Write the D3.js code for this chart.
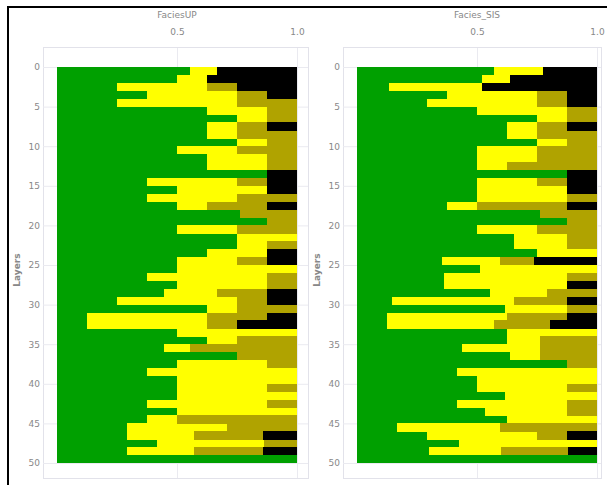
<!DOCTYPE html>
<html><head><meta charset="utf-8">
<script src="https://cdn.jsdelivr.net/npm/d3@7"></script>
<style>body{margin:0;background:#fff}svg{display:block}text{font-family:"DejaVu Sans",sans-serif;fill:#888}</style>
</head><body>
<script>
const facies = ["Green","Yellow","Olive","Black"];
const colors = ["#00a000","#ffff00","#b0a300","#000000"];
const layerTicks = [0,5,10,15,20,25,30,35,40,45,50];
const xTicks = [0.5,1.0];
const titles = ["FaciesUP","Facies_SIS"];

// FaciesUP proportions per layer (rows 0..49)
const upGreen = [0.556,0.5,0.25,0.375,0.25,0.625,0.75,0.625,0.625,0.75,0.5,0.625,0.625,0.875,0.375,0.5,0.375,0.5,0.764,0.875,0.5,0.75,0.75,0.625,0.5,0.5,0.375,0.5,0.444,0.25,0.625,0.125,0.125,0.5,0.625,0.444,0.75,0.5,0.375,0.5,0.5,0.5,0.375,0.5,0.375,0.292,0.29,0.417,0.29,1];
const upYellow = [0.111,0.125,0.375,0.375,0.5,0.25,0.125,0.125,0.125,0.125,0.25,0.25,0.25,0,0.375,0.375,0.375,0.125,0,0,0.25,0.25,0.125,0.25,0.25,0.5,0.5,0.375,0.222,0.5,0.125,0.5,0.5,0.5,0.125,0.111,0,0.375,0.625,0.5,0.375,0.5,0.5,0.5,0.125,0.417,0.28,0.444,0.28,0];
const upOlive = [0,0,0.125,0.125,0.25,0.125,0.125,0.125,0.25,0.125,0.25,0.125,0.125,0,0.125,0,0.25,0.25,0.236,0.125,0.25,0,0.125,0,0.125,0,0.125,0.125,0.208,0.125,0.25,0.25,0.125,0,0.25,0.444,0.25,0.125,0,0,0.125,0,0.125,0,0.5,0.292,0.29,0.139,0.29,0];
const upBlack = [0.333,0.375,0.25,0.125,0,0,0,0.125,0,0,0,0,0,0.125,0.125,0.125,0,0.125,0,0,0,0,0,0.125,0.125,0,0,0,0.125,0.125,0,0.125,0.25,0,0,0,0,0,0,0,0,0,0,0,0,0,0.14,0,0.14,0];

// Facies_SIS proportions per layer (rows 0..49)
const sisGreen = [0.569,0.52,0.132,0.375,0.29,0.5,0.75,0.625,0.625,0.75,0.5,0.5,0.5,0.875,0.5,0.5,0.5,0.375,0.764,0.875,0.5,0.653,0.653,0.75,0.354,0.514,0.361,0.361,0.556,0.146,0.618,0.125,0.125,0.625,0.625,0.4375,0.639,0.875,0.417,0.5,0.5,0.618,0.417,0.535,0.625,0.167,0.29,0.424,0.3,1];
const sisYellow = [0.208,0.118,0.389,0.375,0.46,0.375,0.125,0.125,0.125,0.125,0.25,0.25,0.125,0,0.25,0.375,0.375,0.125,0,0,0.25,0.222,0.222,0.25,0.243,0.486,0.514,0.514,0.236,0.507,0.257,0.5,0.444,0.375,0.139,0.326,0.125,0,0.583,0.5,0.375,0.382,0.458,0.34,0.375,0.43,0.46,0.576,0.3,0];
const sisOlive = [0,0,0,0.125,0.125,0.125,0.125,0.125,0.25,0.125,0.25,0.25,0.375,0,0.125,0,0.125,0.375,0.236,0.125,0.25,0.125,0.125,0,0.139,0,0.125,0,0.208,0.222,0.125,0.25,0.236,0,0.236,0.236,0.236,0.125,0,0,0.125,0,0.125,0.125,0,0.403,0.125,0,0.28,0];
const sisBlack = [0.222,0.361,0.48,0.125,0.125,0,0,0.125,0,0,0,0,0,0.125,0.125,0.125,0,0.125,0,0,0,0,0,0,0.264,0,0,0.125,0,0.125,0,0.125,0.194,0,0,0,0,0,0,0,0,0,0,0,0,0,0.125,0,0.12,0];

const W = 607, H = 485;
const svg = d3.select("body").append("svg").attr("width", W).attr("height", H);

// outer frame (top and left)
svg.append("line").attr("x1",7).attr("x2",W).attr("y1",7).attr("y2",7).attr("stroke","#000").attr("stroke-width",2);
svg.append("line").attr("x1",8).attr("x2",8).attr("y1",6).attr("y2",H).attr("stroke","#000").attr("stroke-width",2);

const panels = [
  {title: titles[0], series: [upGreen, upYellow, upOlive, upBlack], x0: 57, frameL: 43, frameR: 308},
  {title: titles[1], series: [sisGreen, sisYellow, sisOlive, sisBlack], x0: 357, frameL: 343, frameR: 601}
];

const y = d3.scaleLinear().domain([0, 50]).range([67, 463]);

panels.forEach(p => {
  const x = d3.scaleLinear().domain([0, 1]).range([p.x0, p.x0 + 240]);
  const g = svg.append("g");
  // panel frame
  g.append("rect").attr("x", p.frameL + 0.5).attr("y", 47.5).attr("width", p.frameR - p.frameL).attr("height", 431)
    .attr("fill", "#fff").attr("stroke", "#e2e2ea");
  // gridlines
  g.selectAll("line.hg").data(layerTicks).join("line")
    .attr("x1", p.frameL).attr("x2", p.frameR).attr("y1", d => y(d) + 0.5).attr("y2", d => y(d) + 0.5)
    .attr("stroke", "#eaeaf0");
  g.selectAll("line.vg").data(xTicks).join("line")
    .attr("x1", d => x(d) + 0.5).attr("x2", d => x(d) + 0.5).attr("y1", 48).attr("y2", 478)
    .attr("stroke", "#eaeaf0");

  // stacked bars
  const rows = d3.range(50).map(i => {
    const o = {layer: i};
    facies.forEach((f, k) => o[f] = p.series[k][i]);
    return o;
  });
  const stack = d3.stack().keys(facies)(rows);
  stack.forEach((s, k) => {
    g.append("g").attr("fill", colors[k]).selectAll("rect").data(s).join("rect")
      .attr("x", d => x(d[0])).attr("width", d => Math.max(0, x(d[1]) - x(d[0])))
      .attr("y", d => y(d.data.layer)).attr("height", d => y(d.data.layer + 1) - y(d.data.layer) + 0.3)
      .attr("shape-rendering", "crispEdges");
  });

  // top axis
  const ax = d3.axisTop(x).tickValues(xTicks).tickFormat(d3.format(".1f")).tickSize(0).tickPadding(0);
  const axg = g.append("g").attr("transform", "translate(0,35)").call(ax);
  axg.select(".domain").remove();
  axg.selectAll("text").attr("font-size", 9).attr("fill", "#888");

  // left axis
  const ay = d3.axisLeft(y).tickValues(layerTicks).tickSize(0).tickPadding(0);
  const ayg = g.append("g").attr("transform", `translate(${p.frameL - 3},0)`).call(ay);
  ayg.select(".domain").remove();
  ayg.selectAll("text").attr("font-size", 9).attr("fill", "#888");

  // title
  g.append("text").attr("x", x(0.5)).attr("y", 18).attr("text-anchor", "middle").attr("font-size", 9).text(p.title);
  // y label
  g.append("text").attr("transform", `translate(${p.frameL - 23},270) rotate(-90)`).attr("text-anchor", "middle")
    .attr("font-size", 9).attr("font-weight", "bold").attr("fill", "#777").text("Layers");
});
</script>
</body></html>
